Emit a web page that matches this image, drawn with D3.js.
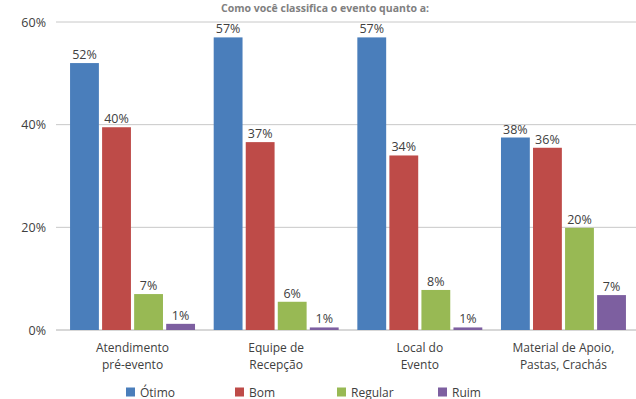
<!DOCTYPE html>
<html><head><meta charset="utf-8">
<script src="https://cdn.jsdelivr.net/npm/d3@7"></script>
<style>body{margin:0;background:#fff}svg{display:block}text{font-family:"Open Sans",Lato,sans-serif;fill:#404040}</style>
</head><body><svg id="c" width="636" height="399"></svg>
<script>
const categories = [["Atendimento","pré-evento"],["Equipe de","Recepção"],["Local do","Evento"],["Material de Apoio,","Pastas, Crachás"]];
const seriesNames = ["Ótimo","Bom","Regular","Ruim"];
const otimo = [52, 57, 57, 37.5];
const bom = [39.5, 36.6, 34, 35.5];
const regular = [7, 5.5, 7.8, 19.9];
const ruim = [1.2, 0.5, 0.5, 6.8];
const yTicks = [0, 20, 40, 60];
const colors = ["#4a7ebb","#be4b48","#98b954","#7d5fa0"];
const title = "Como você classifica o evento quanto a:";

const series = [otimo, bom, regular, ruim];
const svg = d3.select("#c");
const y = d3.scaleLinear().domain([0,60]).range([330,22]);
const x0 = d3.scaleBand().domain(d3.range(categories.length)).range([60,636]).paddingInner(0.13).paddingOuter(0.07);
const x1 = d3.scaleBand().domain(d3.range(series.length)).range([0,x0.bandwidth()]).paddingInner(0.1);

svg.append("text").attr("x",325).attr("y",12).attr("text-anchor","middle").attr("font-size",10.5).attr("font-weight","bold").style("fill","#808080").text(title);

svg.append("g").selectAll("line").data(yTicks.filter(d=>d>0)).join("line")
  .attr("x1",56).attr("x2",636).attr("y1",d=>y(d)).attr("y2",d=>y(d))
  .attr("stroke","#c8c8c8").attr("stroke-width",1);
svg.append("line").attr("x1",56).attr("x2",636).attr("y1",y(0)).attr("y2",y(0)).attr("stroke","#b0b0b0");
svg.append("g").selectAll("text").data(yTicks).join("text")
  .attr("x",46).attr("y",d=>y(d)+4.5).attr("text-anchor","end").attr("font-size",12.5).text(d=>d+"%");

const g = svg.append("g").selectAll("g").data(categories).join("g").attr("transform",(d,i)=>`translate(${x0(i)},0)`);
g.each(function(c,i){
  const gg = d3.select(this);
  series.forEach((s,j)=>{
    gg.append("rect").attr("x",x1(j)).attr("width",x1.bandwidth()).attr("y",y(s[i])).attr("height",y(0)-y(s[i])).attr("fill",colors[j]);
    gg.append("text").attr("x",x1(j)+x1.bandwidth()/2).attr("y",y(s[i])-4).attr("text-anchor","middle").attr("font-size",12.5).text(Math.round(s[i])+"%");
  });
  const t = gg.append("text").attr("x",x0.bandwidth()/2).attr("y",352).attr("text-anchor","middle").attr("font-size",12);
  c.forEach((line,k)=>t.append("tspan").attr("x",x0.bandwidth()/2).attr("dy",k?17:0).text(line));
});

const legX = [126, 235, 337, 438];
const lg = svg.append("g").selectAll("g").data(seriesNames).join("g").attr("transform",(d,i)=>`translate(${legX[i]},392)`);
lg.append("rect").attr("x",0).attr("y",-4.5).attr("width",9).attr("height",9).attr("fill",(d,i)=>colors[i]);
lg.append("text").attr("x",14).attr("y",4.5).attr("font-size",12).text(d=>d);
</script></body></html>
